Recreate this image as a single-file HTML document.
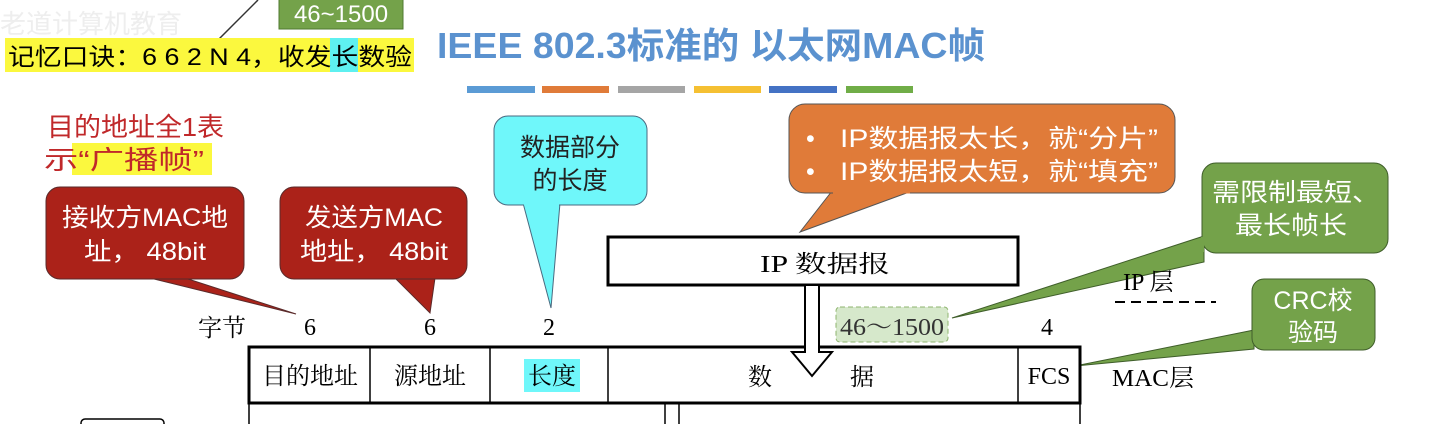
<!DOCTYPE html>
<html><head><meta charset="utf-8"><style>
html,body{margin:0;padding:0;background:#fff;}
svg{display:block;}
text{font-family:"Liberation Serif","Noto Serif CJK SC",serif;}
.s{font-family:"Liberation Sans","Noto Sans CJK SC",sans-serif;}
</style></head><body>
<svg width="1440" height="424" viewBox="0 0 1440 424" xmlns="http://www.w3.org/2000/svg">
<!-- top green tag -->
<line x1="218" y1="40" x2="258" y2="0" stroke="#333" stroke-width="1.5"/>
<rect x="279" y="-2" width="124" height="31" fill="#74a24a" stroke="#4f7a30"/>
<text x="341" y="22" class="s" font-size="24" fill="#fff" text-anchor="middle">46~1500</text>
<text x="0" y="33" class="s" font-size="26" fill="#eee">老道计算机教育</text>
<!-- memo -->
<rect x="5" y="38" width="409" height="34" fill="#fbf83e"/>
<rect x="330" y="38" width="28" height="34" fill="#5ef0f0"/>
<text x="8" y="65" class="s" font-size="24" fill="#000" textLength="404" lengthAdjust="spacingAndGlyphs">记忆口诀：6 6 2 N 4，收发长数验</text>
<!-- title -->
<text x="437" y="58" class="s" font-size="36" font-weight="bold" fill="#5b92cf" textLength="548" lengthAdjust="spacingAndGlyphs">IEEE 802.3标准的 以太网MAC帧</text>
<rect x="467" y="86" width="68" height="7" fill="#5b9bd5"/>
<rect x="542" y="86" width="67" height="7" fill="#e07b39"/>
<rect x="618" y="86" width="67" height="7" fill="#a5a5a5"/>
<rect x="694" y="86" width="67" height="7" fill="#f5c032"/>
<rect x="769" y="86" width="68" height="7" fill="#4472c4"/>
<rect x="846" y="86" width="67" height="7" fill="#70ad47"/>
<!-- red note -->
<text x="47" y="136" class="s" font-size="26" fill="#c0282a" textLength="177" lengthAdjust="spacingAndGlyphs">目的地址全1表</text>
<rect x="72" y="143" width="140" height="32" fill="#fbf83e"/>
<text x="44" y="169" class="s" font-size="26" fill="#c0282a" textLength="160" lengthAdjust="spacingAndGlyphs">示“广播帧”</text>
<!-- red callouts -->
<path d="M150 278 L296 314 L185 278 Z" fill="#ab2219" stroke="#5a2a2a"/>
<rect x="46" y="187" width="198" height="92" rx="14" fill="#ab2219" stroke="#5a2a2a"/>
<path d="M151 277 L184 277" stroke="#ab2219" stroke-width="3"/>
<text x="62" y="226" class="s" font-size="25" fill="#fff" textLength="166" lengthAdjust="spacingAndGlyphs">接收方MAC地</text>
<text x="84" y="260" class="s" font-size="25" fill="#fff" textLength="122" lengthAdjust="spacingAndGlyphs">址， 48bit</text>
<path d="M395 278 L430 313 L435 278 Z" fill="#ab2219" stroke="#5a2a2a"/>
<rect x="280" y="187" width="187" height="92" rx="14" fill="#ab2219" stroke="#5a2a2a"/>
<path d="M396 277 L434 277" stroke="#ab2219" stroke-width="3"/>
<text x="305" y="226" class="s" font-size="25" fill="#fff" textLength="138" lengthAdjust="spacingAndGlyphs">发送方MAC</text>
<text x="300" y="260" class="s" font-size="25" fill="#fff" textLength="148" lengthAdjust="spacingAndGlyphs">地址， 48bit</text>
<!-- cyan callout -->
<path d="M523 203 L551 308 L560 203 Z" fill="#6ff7fa" stroke="#4a6a80"/>
<rect x="494" y="116" width="153" height="89" rx="14" fill="#6ff7fa" stroke="#4a6a80"/>
<path d="M524 204 L559 204" stroke="#6ff7fa" stroke-width="3"/>
<text x="570" y="156" class="s" font-size="25" fill="#222" text-anchor="middle">数据部分</text>
<text x="570" y="189" class="s" font-size="25" fill="#222" text-anchor="middle">的长度</text>
<!-- orange callout -->
<path d="M832 191 L800 232 L912 191 Z" fill="#e07b39" stroke="#555"/>
<rect x="789" y="104" width="386" height="89" rx="16" fill="#e07b39" stroke="#555"/>
<path d="M833 192 L910 192" stroke="#e07b39" stroke-width="3"/>
<text x="806" y="147" class="s" font-size="25" fill="#fff">•</text>
<text x="840" y="147" class="s" font-size="25" fill="#fff" textLength="318" lengthAdjust="spacingAndGlyphs">IP数据报太长，就“分片”</text>
<text x="806" y="180" class="s" font-size="25" fill="#fff">•</text>
<text x="840" y="180" class="s" font-size="25" fill="#fff" textLength="318" lengthAdjust="spacingAndGlyphs">IP数据报太短，就“填充”</text>
<!-- green callouts -->
<path d="M1204 236 L952 318 L1204 262 Z" fill="#74a24a" stroke="#3f5e2a"/>
<rect x="1202" y="163" width="186" height="90" rx="14" fill="#74a24a" stroke="#3f5e2a"/>
<path d="M1202.5 237 L1202.5 252" stroke="#74a24a" stroke-width="3"/>
<text x="1212" y="201" class="s" font-size="25" fill="#fff" textLength="168" lengthAdjust="spacingAndGlyphs">需限制最短、</text>
<text x="1235" y="234" class="s" font-size="25" fill="#fff" textLength="112" lengthAdjust="spacingAndGlyphs">最长帧长</text>
<path d="M1254 330 L1075 366 L1254 349 Z" fill="#74a24a" stroke="#3f5e2a"/>
<rect x="1252" y="279" width="123" height="71" rx="12" fill="#74a24a" stroke="#3f5e2a"/>
<text x="1313" y="309" class="s" font-size="25" fill="#fff" text-anchor="middle">CRC校</text>
<text x="1313" y="341" class="s" font-size="25" fill="#fff" text-anchor="middle">验码</text>
<!-- IP datagram -->
<rect x="608" y="237" width="410" height="48" fill="#fff" stroke="#000" stroke-width="3"/>
<text x="760" y="272" font-size="24" fill="#000" textLength="130" lengthAdjust="spacingAndGlyphs">IP 数据报</text>
<!-- 46~1500 dashed -->
<rect x="836" y="307" width="112" height="35" rx="4" fill="#d6e8cb" stroke="#8fb56f" stroke-dasharray="5,3"/>
<text x="892" y="335" font-size="24" fill="#333" text-anchor="middle" textLength="104" lengthAdjust="spacingAndGlyphs">46～1500</text>
<!-- labels -->
<text x="198" y="336" font-size="24">字节</text>
<text x="310" y="335" font-size="24" text-anchor="middle">6</text>
<text x="430" y="335" font-size="24" text-anchor="middle">6</text>
<text x="549" y="335" font-size="24" text-anchor="middle">2</text>
<text x="1047" y="335" font-size="24" text-anchor="middle">4</text>
<text x="1123" y="290" font-size="24">IP 层</text>
<line x1="1115" y1="302" x2="1216" y2="302" stroke="#000" stroke-width="2" stroke-dasharray="10,6"/>
<text x="1112" y="386" font-size="24" textLength="82" lengthAdjust="spacingAndGlyphs">MAC层</text>
<!-- frame -->
<rect x="249" y="347" width="831" height="56" fill="#fff" stroke="#000" stroke-width="3"/>
<line x1="370" y1="347" x2="370" y2="403" stroke="#000" stroke-width="1.5"/>
<line x1="490" y1="347" x2="490" y2="403" stroke="#000" stroke-width="1.5"/>
<line x1="608" y1="347" x2="608" y2="403" stroke="#000" stroke-width="1.5"/>
<line x1="1018" y1="347" x2="1018" y2="403" stroke="#000" stroke-width="1.5"/>
<text x="310" y="384" font-size="24" text-anchor="middle">目的地址</text>
<text x="430" y="384" font-size="24" text-anchor="middle">源地址</text>
<rect x="524" y="359" width="56" height="33" fill="#6ff7fa"/>
<text x="552" y="384" font-size="24" text-anchor="middle">长度</text>
<text x="748" y="385" font-size="24">数</text>
<text x="850" y="385" font-size="24">据</text>
<text x="1049" y="384" font-size="24" text-anchor="middle">FCS</text>
<!-- arrow -->
<path d="M805 286 L805 352 L792 352 L812 376 L832 352 L819 352 L819 286" fill="#fff" stroke="#000" stroke-width="2"/>
<line x1="249" y1="403" x2="249" y2="424" stroke="#000" stroke-width="1.5"/>
<line x1="665" y1="403" x2="665" y2="424" stroke="#000" stroke-width="1.5"/>
<line x1="679" y1="403" x2="679" y2="424" stroke="#000" stroke-width="1.5"/>
<line x1="1080" y1="403" x2="1080" y2="424" stroke="#000" stroke-width="1.5"/>
<rect x="81" y="419" width="83" height="12" rx="4" fill="#fff" stroke="#000" stroke-width="1.5"/>
</svg>
</body></html>
